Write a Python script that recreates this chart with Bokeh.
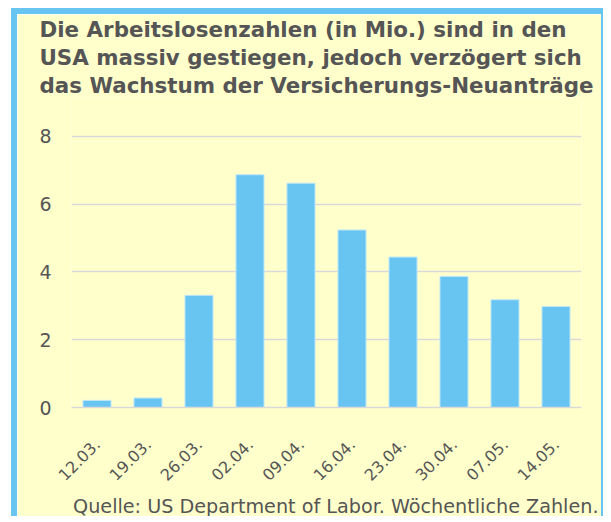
import math
from bokeh.plotting import figure
from bokeh.models import Range1d, Title
from bokeh.embed import file_html
from bokeh.resources import INLINE

categories = ["12.03.", "19.03.", "26.03.", "02.04.", "09.04.", "16.04.",
              "23.04.", "30.04.", "07.05.", "14.05."]
values = [0.21, 0.28, 3.31, 6.87, 6.62, 5.24, 4.44, 3.87, 3.18, 2.98]
y_ticks = [0, 2, 4, 6, 8]

title_lines = ["Die Arbeitslosenzahlen (in Mio.) sind in den",
               "USA massiv gestiegen, jedoch verzögert sich",
               "das Wachstum der Versicherungs-Neuanträge"]
source_text = "Quelle: US Department of Labor. Wöchentliche Zahlen."

YELLOW = "#FFFFCC"
BLUE = "#68C5F1"
TEXT = "#555555"
FONT = "DejaVu Sans"

p = figure(x_range=categories, y_range=Range1d(0, 9.15),
           width=592, height=508, output_backend="svg", toolbar_location=None,
           min_border_left=54, min_border_right=28, min_border_top=83,
           min_border_bottom=115)
p.styles = {"border-left": f"6px solid {BLUE}", "border-top": f"6px solid {BLUE}",
            "border-right": f"2px solid {BLUE}", "margin-left": "11px",
            "margin-top": "8px"}

p.background_fill_color = YELLOW
p.border_fill_color = YELLOW
p.outline_line_color = None

p.vbar(x=categories, top=values, width=0.55, fill_color=BLUE,
       line_color="#bfe6f8", line_width=1)

title = Title(text="\n".join(title_lines), align="left", offset=-32,
              vertical_align="bottom", standoff=0, text_font=FONT,
              text_font_size="21.4px", text_font_style="bold", text_color=TEXT,
              text_line_height=1.12)
p.add_layout(title, "above")

foot = Title(text=source_text, align="right", offset=-17, vertical_align="bottom",
             standoff=8, text_font=FONT, text_font_size="19.2px",
             text_font_style="normal", text_color=TEXT)
p.add_layout(foot, "below")

p.xgrid.grid_line_color = None
p.ygrid.grid_line_color = "#D9D9D9"
p.ygrid.grid_line_width = 1.5
p.yaxis.ticker = y_ticks
p.yaxis.axis_line_color = None
p.yaxis.major_tick_line_color = None
p.yaxis.minor_tick_line_color = None
p.yaxis.major_label_text_font_size = "19px"
p.yaxis.major_label_text_font = FONT
p.yaxis.major_label_text_color = TEXT
p.yaxis.major_label_standoff = 14

p.xaxis.axis_line_color = "#D9D9D9"
p.xaxis.axis_line_width = 1.5
p.xaxis.major_tick_line_color = None
p.xaxis.minor_tick_line_color = None
p.xaxis.major_label_orientation = math.pi / 4
p.xaxis.major_label_text_font_size = "16px"
p.xaxis.major_label_text_font = FONT
p.xaxis.major_label_text_color = TEXT
p.xaxis.major_label_standoff = 28

open("out.html", "w").write(file_html(p, INLINE))
